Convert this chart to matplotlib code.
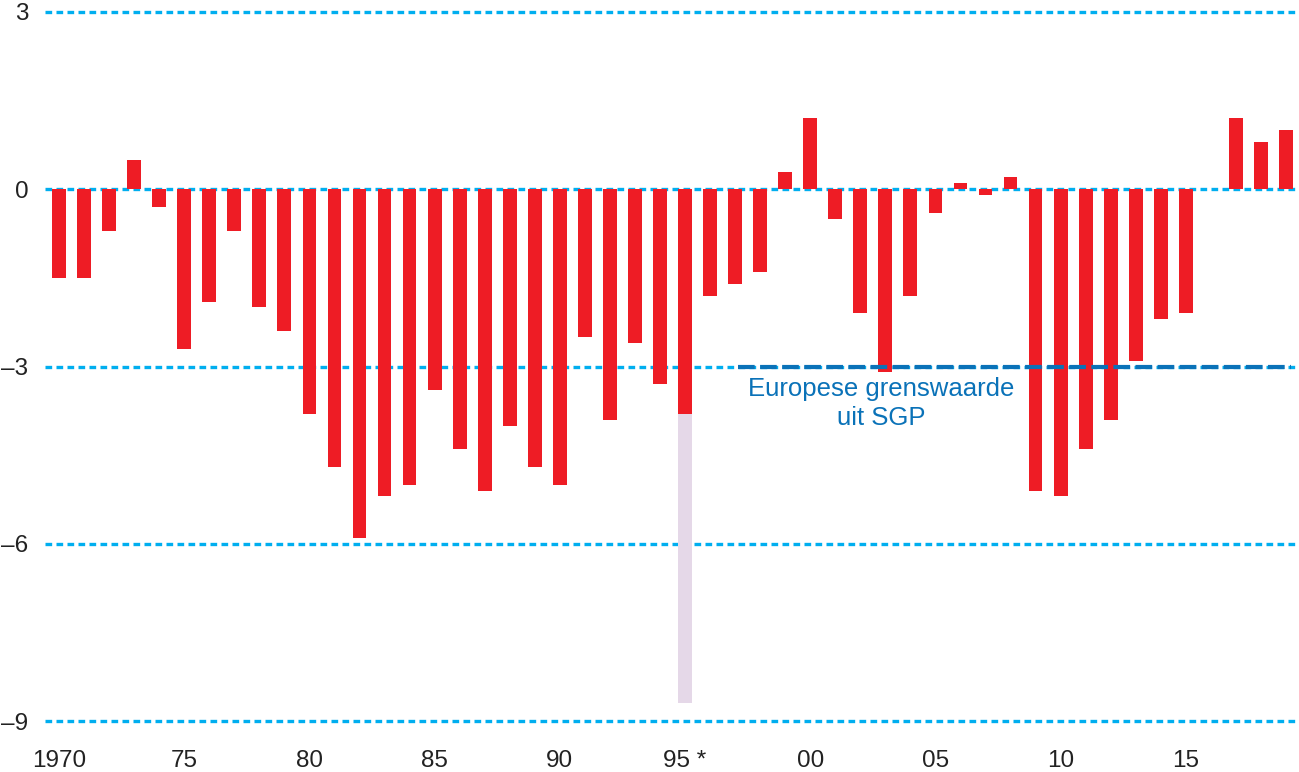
import numpy as np
import matplotlib.pyplot as plt

years = list(range(1970, 2020))
saldo = [-1.5, -1.5, -0.7, 0.5, -0.3, -2.7, -1.9, -0.7, -2.0, -2.4,
         -3.8, -4.7, -5.9, -5.2, -5.0, -3.4, -4.4, -5.1, -4.0, -4.7,
         -5.0, -2.5, -3.9, -2.6, -3.3, -3.8, -1.8, -1.6, -1.4, 0.3,
         1.2, -0.5, -2.1, -3.1, -1.8, -0.4, 0.1, -0.1, 0.2, -5.1,
         -5.2, -4.4, -3.9, -2.9, -2.2, -2.1, np.nan, 1.2, 0.8, 1.0]
# extra deficit in 1995 (stacked below the red bar)
extra_year = 1995
extra_bottom = -3.8
extra_value = -4.9

tick_years = [1970, 1975, 1980, 1985, 1990, 1995, 2000, 2005, 2010, 2015]
tick_labels = ['1970', '75', '80', '85', '90', '95 *', '00', '05', '10', '15']
y_ticks = [3, 0, -3, -6, -9]
y_labels = ['3', '0', '\u20133', '\u20136', '\u20139']
sgp_limit = -3

red = '#ee1c25'
purple = '#e5d8e8'
grid_blue = '#00aeef'
line_blue = '#0a72b8'

plt.rcParams['font.family'] = ['Liberation Sans', 'DejaVu Sans']

fig = plt.figure(figsize=(12.99, 7.72), dpi=100)
ax = fig.add_axes([45 / 1299, 1 - 721 / 772, (1297 - 45) / 1299, (721 - 12) / 772])

for y in y_ticks:
    ax.axhline(y, color=grid_blue, lw=2.4, ls=(0, (2, 1.3)), zorder=1, clip_on=False)

ax.bar(years, saldo, width=0.55, color=red, zorder=2)
ax.bar([extra_year], [extra_value], bottom=[extra_bottom], width=0.55, color=purple, zorder=2)

ax.plot([1997.1, 2019.2], [sgp_limit, sgp_limit], color=line_blue, lw=3,
        ls=(0, (4, 1.3)), zorder=3)
ax.text(2002.85, -3.17, 'Europese grenswaarde\nuit SGP', color=line_blue, fontsize=18.5,
        ha='center', va='top', multialignment='center', linespacing=1.3, zorder=4)

ax.set_xlim(1969.44, 2019.44)
ax.set_ylim(-9, 3)
ax.set_xticks(tick_years)
ax.set_xticklabels(tick_labels, fontsize=17.5, color='#222222')
ax.set_yticks(y_ticks)
ax.set_yticklabels(y_labels, fontsize=17.5, color='#222222')
ax.tick_params(length=0)
ax.tick_params(axis='x', pad=21)
ax.tick_params(axis='y', pad=12)
for s in ax.spines.values():
    s.set_visible(False)

fig.savefig('out.png', dpi=100)
